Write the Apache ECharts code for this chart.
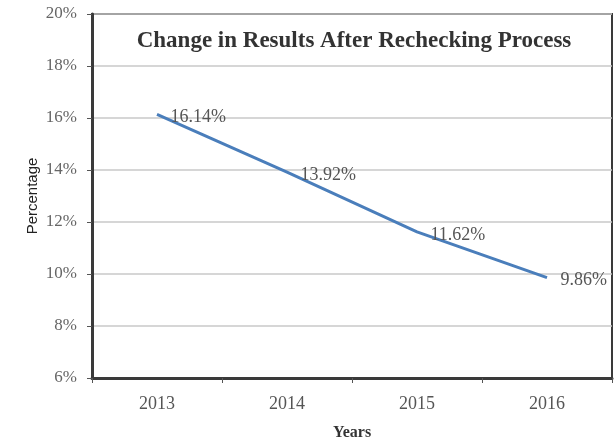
<!DOCTYPE html>
<html>
<head>
<meta charset="utf-8">
<script src="https://cdn.jsdelivr.net/npm/echarts@6/dist/echarts.min.js"></script>
<style>
  html, body { margin: 0; padding: 0; background: #fff; }
  #chart { width: 615px; height: 440px; }
</style>
</head>
<body>
<div id="chart"></div>
<script>
// Change in results after rechecking, per year
const years = ['2013', '2014', '2015', '2016'];
const percentValues = [16.14, 13.92, 11.62, 9.86];

const chart = echarts.init(document.getElementById('chart'));

const serif = '"Liberation Serif", "DejaVu Serif", serif';

chart.setOption({
    backgroundColor: '#fff',
    animation: false,
    title: {
        text: 'Change in Results After Rechecking Process',
        left: 349,
        top: 25,
        textAlign: 'center',
        textStyle: {
            fontFamily: serif,
            fontSize: 23,
            fontWeight: 'bold',
            color: '#333'
        }
    },
    grid: {
        left: 92,
        top: 14,
        right: 3,
        bottom: 62,
        outerBoundsMode: 'none',
        show: true,
        borderColor: '#3a3a3a',
        borderWidth: 2
    },
    xAxis: {
        type: 'category',
        data: years,
        name: 'Years',
        nameLocation: 'middle',
        nameGap: 47,
        nameTextStyle: {
            fontFamily: serif,
            fontSize: 16,
            fontWeight: 'bold',
            color: '#333'
        },
        axisLine: { lineStyle: { color: '#3a3a3a', width: 3 } },
        axisTick: { show: true, length: 5, lineStyle: { color: '#555' } },
        axisLabel: {
            fontFamily: serif,
            fontSize: 18,
            color: '#555',
            margin: 17
        }
    },
    yAxis: {
        type: 'value',
        min: 6,
        max: 20,
        interval: 2,
        name: 'Percentage',
        nameLocation: 'middle',
        nameGap: 52,
        nameMoveOverlap: false,
        nameTextStyle: {
            fontFamily: '"Liberation Sans", Arial, sans-serif',
            fontSize: 15,
            color: '#222'
        },
        axisLine: { show: true, lineStyle: { color: '#3a3a3a', width: 3 } },
        axisTick: { show: true, length: 5, lineStyle: { color: '#555' } },
        axisLabel: {
            formatter: '{value}%',
            fontFamily: serif,
            fontSize: 17,
            color: '#666',
            margin: 15
        },
        splitLine: { lineStyle: { color: '#c8c8c8', width: 1.5 } }
    },
    series: [{
        type: 'line',
        data: percentValues,
        symbol: 'circle',
        symbolSize: 1,
        showSymbol: true,
        itemStyle: { color: 'rgba(0,0,0,0)' },
        lineStyle: { color: '#4a7ebb', width: 3 },
        label: {
            show: true,
            position: 'right',
            distance: 13,
            offset: [0, 3],
            formatter: function (p) { return p.value.toFixed(2) + '%'; },
            fontFamily: serif,
            fontSize: 18,
            color: '#555'
        }
    }]
});
</script>
</body>
</html>
